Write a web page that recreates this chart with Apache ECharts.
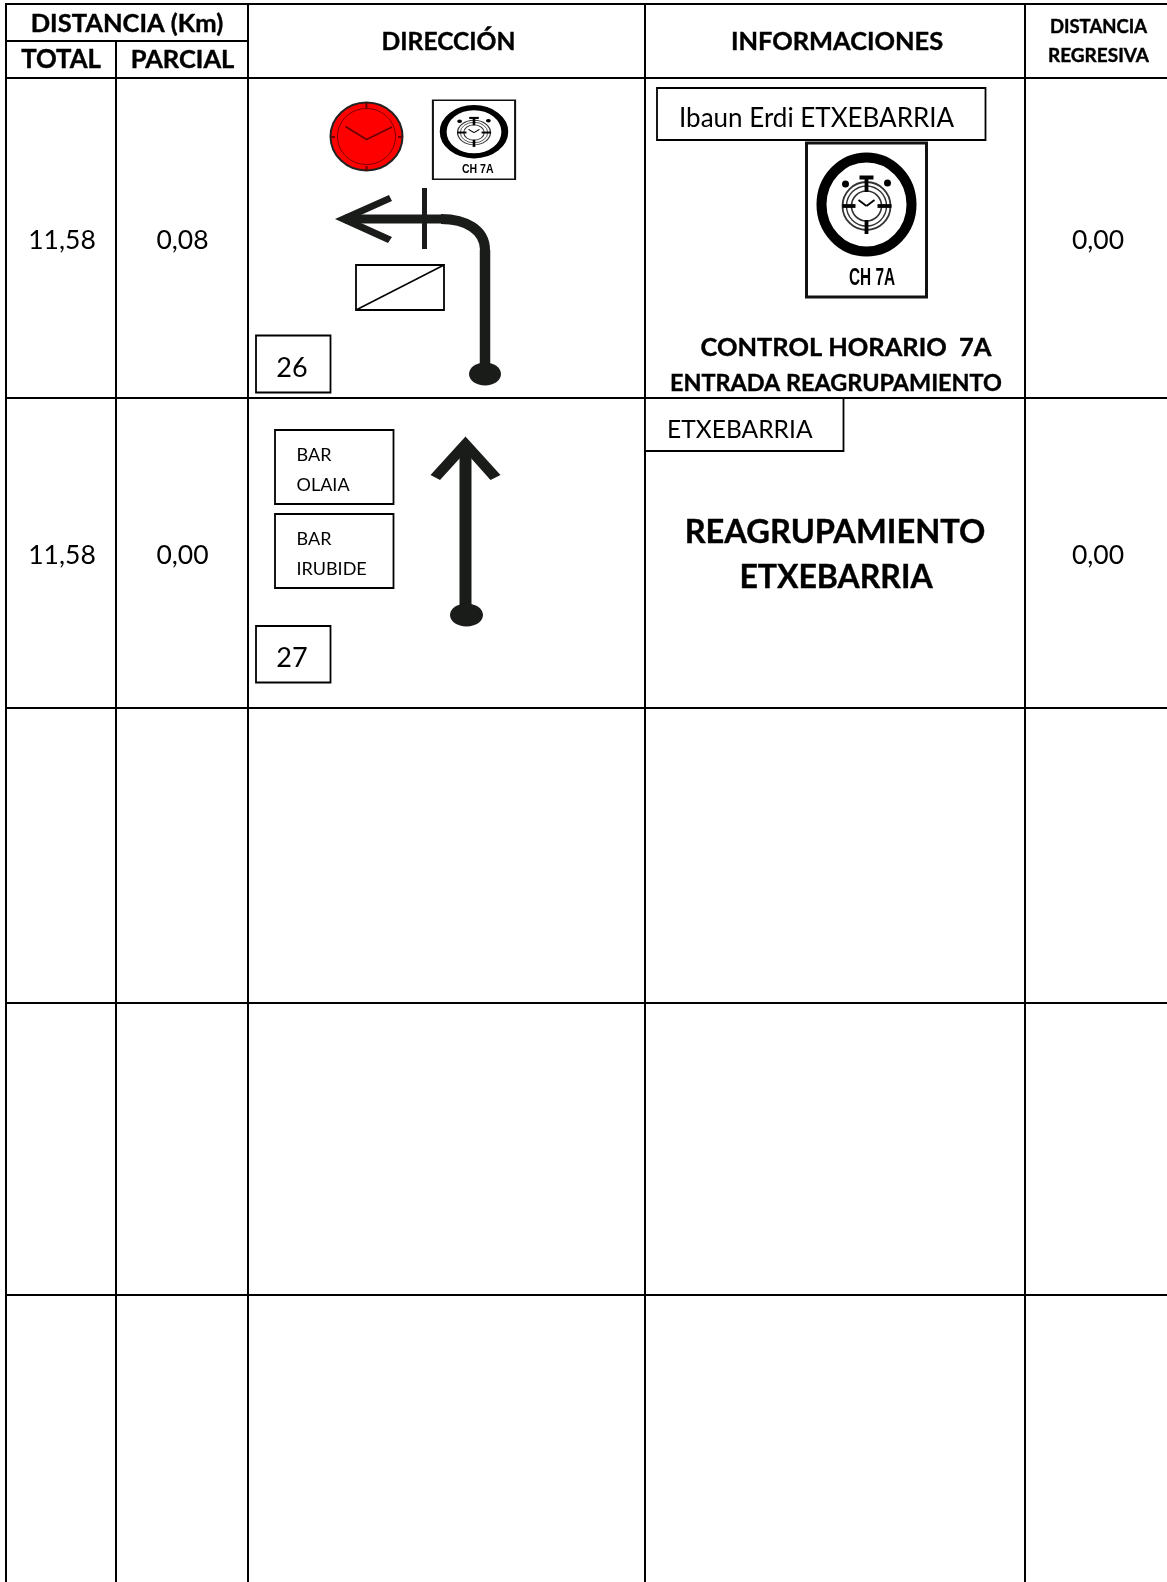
<!DOCTYPE html>
<html>
<head>
<meta charset="utf-8">
<style>html,body{margin:0;padding:0;background:#fff}#main{width:1167px;height:1582px}</style>
<script src="https://cdn.jsdelivr.net/npm/echarts@6/dist/echarts.min.js"></script>
</head>
<body>
<div id="main"></div>
<script>
// cabecera
var headDistancia = 'DISTANCIA (Km)';
var headSub = ['TOTAL', 'PARCIAL'];
var headMain = ['DIRECCIÓN', 'INFORMACIONES'];
var headRegresiva = ['DISTANCIA', 'REGRESIVA'];

// filas
var totales = ['11,58', '11,58'];
var parciales = ['0,08', '0,00'];
var regresivas = ['0,00', '0,00'];
var casillas = ['26', '27'];
var lugares = ['Ibaun Erdi ETXEBARRIA', 'ETXEBARRIA'];
var bares = [['BAR', 'OLAIA'], ['BAR', 'IRUBIDE']];
var control = ['CONTROL HORARIO  7A', 'ENTRADA REAGRUPAMIENTO'];
var reagrupamiento = ['REAGRUPAMIENTO', 'ETXEBARRIA'];
var chLabel = 'CH 7A';

// lineas de la tabla
var colX = [6, 116, 248, 645, 1025];
var rowY = [78, 398, 708, 1003, 1295];
var W = 1167, H = 1582, INK = '#000', ROAD = '#1a1c1a';
var FONT = 'Lato, "Noto Sans", sans-serif';
var LABEL = '"Liberation Sans", sans-serif';

var g = [];

function line(x1, y1, x2, y2, w, c) {
    g.push({type: 'line', shape: {x1: x1, y1: y1, x2: x2, y2: y2}, style: {stroke: c || INK, lineWidth: w || 2}});
}
function box(x1, y1, x2, y2, w) {
    g.push({type: 'rect', shape: {x: x1, y: y1, width: x2 - x1, height: y2 - y1}, style: {fill: '#fff', stroke: INK, lineWidth: w || 1.8}});
}
function txt(x, y, s, size, bold, align) {
    g.push({type: 'text', x: x, y: y, style: {
        text: s, fill: INK, fontFamily: FONT, fontSize: size, fontWeight: bold ? 'bold' : 'normal',
        stroke: bold ? INK : null, lineWidth: bold ? 0.4 : 0,
        align: align || 'center', verticalAlign: 'middle'
    }});
}
function ell(cx, cy, rx, ry, fill, stroke, w) {
    g.push({type: 'ellipse', shape: {cx: cx, cy: cy, rx: rx, ry: ry}, style: {fill: fill, stroke: stroke || null, lineWidth: w || 0}});
}
function poly(points, fill) {
    g.push({type: 'polygon', shape: {points: points}, style: {fill: fill}});
}

// icono de control horario, dibujado a tamaño grande y escalado
function chIcon(cx, cy, sx, sy) {
    var items = [];
    var blk = '#000', soft = '#333';
    function l(x1, y1, x2, y2, w, c) {
        items.push({type: 'line', shape: {x1: x1, y1: y1, x2: x2, y2: y2}, style: {stroke: c || blk, lineWidth: w, lineCap: 'butt'}});
    }
    function c(x, y, r, w, col, fill) {
        items.push({type: 'circle', shape: {cx: x, cy: y, r: r}, style: {fill: fill || 'none', stroke: col, lineWidth: w}});
    }
    items.push({type: 'rect', shape: {x: -60, y: -60, width: 120, height: 154}, style: {fill: '#fff', stroke: '#111', lineWidth: 3}});
    items.push({type: 'ellipse', shape: {cx: 0, cy: 1.5, rx: 45, ry: 47}, style: {fill: 'none', stroke: blk, lineWidth: 10}});
    c(0, 3, 24, 1.8, soft);
    c(0, 3, 20, 1.4, soft);
    c(0, 3, 15, 1.6, soft);
    l(0, -25, 0, -11, 3.8);
    l(0, 17, 0, 31, 3.8);
    l(-24, 3, -11, 3, 3.8);
    l(11, 3, 25, 3, 3.8);
    l(-8, -3, 0, 3, 1.8);
    l(8, -3, 0, 3, 1.8);
    l(-7, -25.5, 7, -25.5, 4);
    c(-21, -19, 2.5, 2, blk, blk);
    c(21, -20, 2.5, 2, blk, blk);
    items.push({type: 'text', x: 5.5, y: 75, scaleX: 0.64, style: {
        text: chLabel, fill: blk, fontFamily: LABEL, fontSize: 24, fontWeight: 'bold',
        align: 'center', verticalAlign: 'middle'
    }});
    g.push({type: 'group', x: cx, y: cy, scaleX: sx, scaleY: sy, children: items});
}

// tabla
line(colX[0], 4, W, 4);
line(colX[0], 41, colX[2], 41);
line(colX[0], 78, W, 78);
rowY.slice(1).forEach(function (y) { line(colX[0], y, W, y); });
line(colX[0], 3, colX[0], H);
line(colX[1], 41, colX[1], H);
line(colX[2], 3, colX[2], H);
line(colX[3], 3, colX[3], H);
line(colX[4], 3, colX[4], H);

// textos de cabecera
txt(127, 24, headDistancia, 25.5, true);
txt(61, 60, headSub[0], 25.7, true);
txt(182.5, 60, headSub[1], 25.5, true);
txt(448.5, 42, headMain[0], 24.6, true);
txt(837, 42, headMain[1], 25.4, true);
txt(1098.5, 27.5, headRegresiva[0], 18.5, true);
txt(1098.5, 55.5, headRegresiva[1], 19, true);

// columnas numericas
var filaY = [240, 555.5];
filaY.forEach(function (y, i) {
    txt(62, y, totales[i], 26.5);
    txt(182.5, y, parciales[i], 26.5);
    txt(1098, y, regresivas[i], 26.5);
});

// fila 1, direccion
ell(366.5, 136.5, 36, 34, '#ff0000', '#222', 2);
ell(366.5, 136.5, 29, 28, 'none', '#7a0000', 1);
g.push({type: 'polyline', shape: {points: [[345.5, 126.5], [366.5, 139.5], [392, 127]]}, style: {stroke: '#6a0000', fill: 'none', lineWidth: 1.8}});
line(366.5, 103, 366.5, 108, 2, '#6a0000');
line(366.5, 166, 366.5, 171, 2, '#6a0000');
line(330.5, 137, 335, 137, 2, '#6a0000');
line(398, 137, 402.5, 137, 2, '#6a0000');
chIcon(474, 131, 0.685, 0.513);

line(485, 370, 485, 250, 10.5, ROAD);
g.push({type: 'bezierCurve', shape: {x1: 485, y1: 250, cpx1: 485, cpy1: 230, cpx2: 466, cpy2: 219, x2: 441, y2: 219},
    style: {fill: 'none', stroke: ROAD, lineWidth: 10}});
line(441, 219, 345, 219, 9, ROAD);
poly([[335, 219], [389, 195], [392, 201], [352, 219], [392, 237], [388, 243]], ROAD);
line(424.5, 188, 424.5, 249, 5, ROAD);
ell(485, 374, 16, 11.5, ROAD);
box(356, 265, 444, 310);
line(356, 310, 444, 265, 1.5);
box(256, 335.5, 330.5, 392.5);
txt(292, 368, casillas[0], 27);

// fila 1, informaciones
box(657, 88, 985.5, 140);
txt(679, 119, lugares[0], 26, false, 'left');
chIcon(866.5, 203, 1, 1);
txt(846, 348, control[0], 25.4, true);
txt(836, 383, control[1], 23.4, true);

// fila 2, direccion
box(275, 430, 393.5, 504);
txt(296.5, 455, bares[0][0], 18, false, 'left');
txt(296.5, 485, bares[0][1], 18, false, 'left');
box(275, 514, 393.5, 588);
txt(296.5, 539, bares[1][0], 18, false, 'left');
txt(296.5, 569, bares[1][1], 18, false, 'left');
box(256, 626, 330.5, 682.5);
txt(292, 658, casillas[1], 27);
line(465.5, 612, 465.5, 448, 12, ROAD);
poly([[465.5, 436.5], [500.5, 475], [490.5, 480], [465.5, 452], [440, 480], [430.5, 475]], ROAD);
ell(466.5, 615, 16.5, 11.5, ROAD);

// fila 2, informaciones
box(645, 398, 843.5, 451);
txt(667, 430.5, lugares[1], 24.6, false, 'left');
txt(835, 532, reagrupamiento[0], 32.6, true);
txt(836, 578, reagrupamiento[1], 32, true);

var chart = echarts.init(document.getElementById('main'));
chart.setOption({
    backgroundColor: '#fff',
    animation: false,
    graphic: {elements: g}
});
</script>
</body>
</html>
